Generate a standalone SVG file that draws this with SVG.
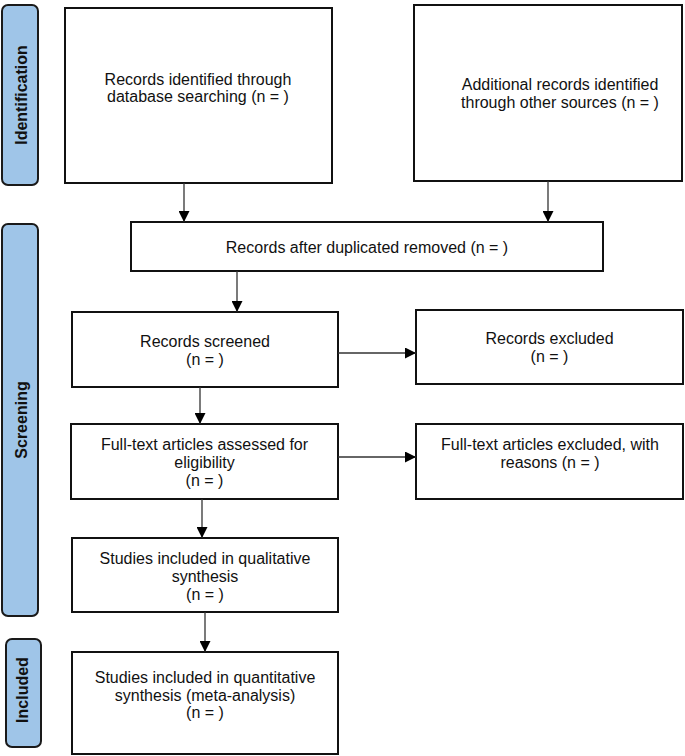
<svg xmlns="http://www.w3.org/2000/svg" width="685" height="756" viewBox="0 0 685 756">
<defs>
<style>
.box{fill:#fff;stroke:#111;stroke-width:2}
.side{fill:#9fc5e8;stroke:#1a1a1a;stroke-width:2}
.t{font-family:"Liberation Sans",Arial,sans-serif;font-size:16px;fill:#111;text-anchor:middle}
.st{font-family:"Liberation Sans",Arial,sans-serif;font-size:16px;font-weight:bold;fill:#111;text-anchor:middle}
.c{fill:none;stroke:#333;stroke-width:1.3}
</style>
<marker id="ah" markerUnits="userSpaceOnUse" markerWidth="11" markerHeight="11" viewBox="0 0 10 10" refX="10" refY="5" orient="auto">
<path d="M0,0 L10,5 L0,10 Z" fill="#000"/>
</marker>
</defs>
<rect width="685" height="756" fill="#fff"/>
<g id="side-identification"><rect class="side" x="2" y="5" width="36" height="180" rx="6"/><text class="st" transform="translate(27,95) rotate(-90)">Identification</text></g>
<g id="side-screening"><rect class="side" x="2" y="224" width="36" height="392" rx="6"/><text class="st" transform="translate(27,420) rotate(-90)">Screening</text></g>
<g id="side-included"><rect class="side" x="6" y="639" width="35" height="108" rx="6"/><text class="st" transform="translate(28,690) rotate(-90)">Included</text></g>

<g id="n-db"><rect class="box" x="65" y="8" width="267" height="175"/><text class="t" x="198" y="85">Records identified through</text><text class="t" x="198" y="102">database searching (n = )</text></g>
<g id="n-other"><rect class="box" x="414" y="5" width="268" height="176"/><text class="t" x="560" y="90">Additional records identified</text><text class="t" x="560" y="108">through other sources (n = )</text></g>
<g id="n-dup"><rect class="box" x="131" y="222" width="472" height="49"/><text class="t" x="367" y="253">Records after duplicated removed (n = )</text></g>
<g id="n-screened"><rect class="box" x="72" y="312" width="266" height="75"/><text class="t" x="205" y="347">Records screened</text><text class="t" x="205" y="365">(n = )</text></g>
<g id="n-excluded"><rect class="box" x="416" y="310" width="267" height="74"/><text class="t" x="549.5" y="344">Records excluded</text><text class="t" x="549.5" y="362">(n = )</text></g>
<g id="n-fulltext"><rect class="box" x="71" y="424" width="267" height="75"/><text class="t" x="204.5" y="450">Full-text articles assessed for</text><text class="t" x="204.5" y="468">eligibility</text><text class="t" x="204.5" y="486">(n = )</text></g>
<g id="n-ftexcl"><rect class="box" x="416" y="424" width="267" height="75"/><text class="t" x="550" y="450">Full-text articles excluded, with</text><text class="t" x="550" y="468">reasons (n = )</text></g>
<g id="n-qual"><rect class="box" x="72" y="538" width="266" height="74"/><text class="t" x="205" y="564">Studies included in qualitative</text><text class="t" x="205" y="582">synthesis</text><text class="t" x="205" y="600">(n = )</text></g>
<g id="n-quant"><rect class="box" x="72" y="652" width="266" height="102"/><text class="t" x="205" y="683">Studies included in quantitative</text><text class="t" x="205" y="701">synthesis (meta-analysis)</text><text class="t" x="205" y="718">(n = )</text></g>

<g id="connectors">
<line class="c" x1="184" y1="183" x2="184" y2="222" marker-end="url(#ah)"/>
<line class="c" x1="548" y1="181" x2="548" y2="222" marker-end="url(#ah)"/>
<line class="c" x1="237" y1="271" x2="237" y2="312" marker-end="url(#ah)"/>
<line class="c" x1="338" y1="353" x2="416" y2="353" marker-end="url(#ah)"/>
<line class="c" x1="200" y1="387" x2="200" y2="424" marker-end="url(#ah)"/>
<line class="c" x1="338" y1="457" x2="416" y2="457" marker-end="url(#ah)"/>
<line class="c" x1="202" y1="499" x2="202" y2="538" marker-end="url(#ah)"/>
<line class="c" x1="205" y1="612" x2="205" y2="652" marker-end="url(#ah)"/>
</g>
</svg>
